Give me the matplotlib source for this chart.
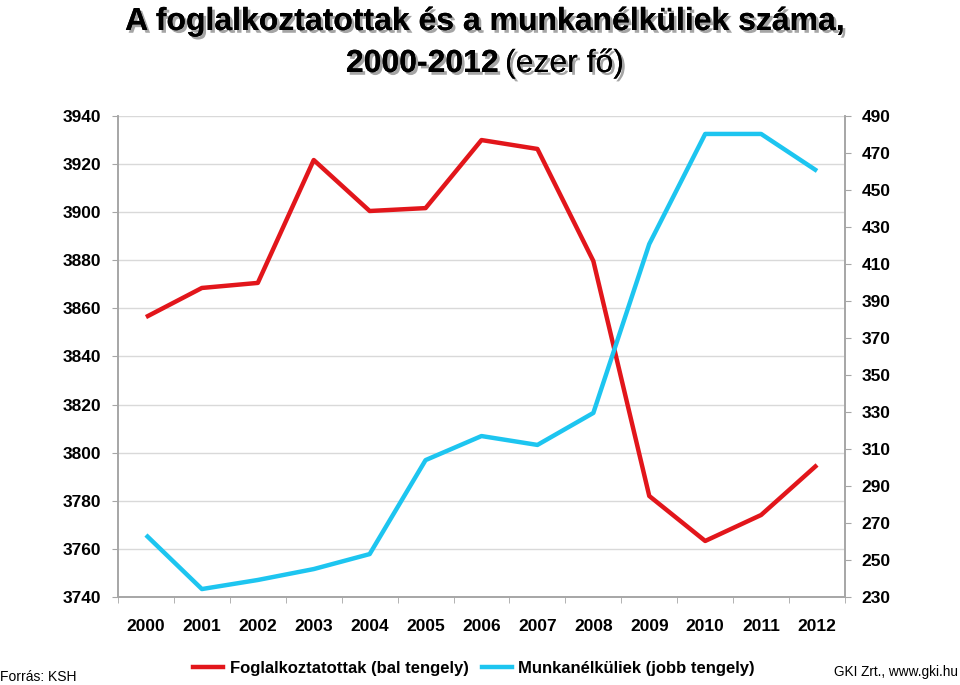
import matplotlib.pyplot as plt
import matplotlib.patheffects as pe
from matplotlib.ticker import FixedLocator, NullFormatter

# ─── DATA ──────────────────────────────────────────────────────────────────
YEARS = ["2000", "2001", "2002", "2003", "2004", "2005", "2006",
         "2007", "2008", "2009", "2010", "2011", "2012"]
EMPLOYED = [3856.4, 3868.5, 3870.6, 3921.7, 3900.5, 3901.7, 3930.0,
            3926.3, 3879.7, 3782.0, 3763.3, 3774.1, 3794.9]
UNEMPLOYED = [263.5, 234.3, 239.2, 245.1, 253.2, 304.0, 317.0,
              312.2, 329.5, 420.8, 480.3, 480.3, 460.3]
LEFT_TICKS = list(range(3740, 3941, 20))
RIGHT_TICKS = list(range(230, 491, 20))

RED = "#E2161B"
CYAN = "#1DC5F0"
GRID = "#D9D9D9"
AXIS = "#A6A6A6"

plt.rcParams["font.family"] = ["Liberation Sans Narrow", "Liberation Sans", "DejaVu Sans"]

fig = plt.figure(figsize=(9.6, 6.85), dpi=100)
ax = fig.add_axes([118/960, 1-597/685, (845-118)/960, (597-116)/685])
ax2 = ax.twinx()

x = list(range(len(YEARS)))
ax.plot(x, EMPLOYED, color=RED, lw=3.2, solid_capstyle="butt", zorder=3)
ax2.plot(x, UNEMPLOYED, color=CYAN, lw=3.2, solid_capstyle="butt", zorder=3)

ax.set_xlim(-0.5, len(YEARS) - 0.5)
ax.set_ylim(3740, 3940)
ax2.set_ylim(230, 490)

ax.set_yticks(LEFT_TICKS)
ax.set_yticklabels([str(v) for v in LEFT_TICKS], fontsize=12.5, fontweight="bold")
ax2.set_yticks(RIGHT_TICKS)
ax2.set_yticklabels([str(v) for v in RIGHT_TICKS], fontsize=12.5, fontweight="bold")

# category labels in the middle, ticks on the boundaries (Excel style)
ax.set_xticks(x)
ax.set_xticklabels(YEARS, fontsize=12.5, fontweight="bold")
ax.tick_params(axis="x", length=0, pad=16)
ax.xaxis.set_minor_locator(FixedLocator([i - 0.5 for i in range(len(YEARS) + 1)]))
ax.xaxis.set_minor_formatter(NullFormatter())
ax.tick_params(axis="x", which="minor", length=4, color=AXIS, direction="out")

ax.tick_params(axis="y", length=4, color=AXIS, pad=8)
ax2.tick_params(axis="y", length=4, color=AXIS, pad=8)

ax.grid(axis="y", color=GRID, lw=1)
ax.set_axisbelow(True)
for a in (ax, ax2):
    a.spines["top"].set_visible(False)
    for s in ("left", "right", "bottom"):
        a.spines[s].set_color(AXIS)
        a.spines[s].set_linewidth(1.2)

# ─── TITLE ─────────────────────────────────────────────────────────────────
shadow = [pe.withSimplePatchShadow(offset=(2, -2), shadow_rgbFace="#7F7F7F", alpha=0.7),
          pe.Normal()]
fig.text(485/960, 1-22/685, "A foglalkoztatottak és a munkanélküliek száma,",
         ha="center", va="center", fontsize=23, fontweight="bold",
         path_effects=shadow)
fig.text(499/960, 1-64/685, "2000-2012", ha="right", va="center",
         fontsize=23, fontweight="bold", path_effects=shadow)
fig.text(505/960, 1-64/685, "(ezer fő)", ha="left", va="center",
         fontsize=23, path_effects=shadow)

# ─── LEGEND & NOTES ────────────────────────────────────────────────────────
handles = [plt.Line2D([0], [0], color=RED, lw=3.2,
                      label="Foglalkoztatottak (bal tengely)"),
           plt.Line2D([0], [0], color=CYAN, lw=3.2,
                      label="Munkanélküliek (jobb tengely)")]
fig.legend(handles=handles, loc="center", bbox_to_anchor=(474/960, 1-668/685),
           ncol=2, frameon=False, handlelength=1.8, handletextpad=0.4,
           columnspacing=0.8, prop={"size": 12, "weight": "bold"})

fig.text(0/960, 1-677/685, "Forrás: KSH", ha="left", va="center", fontsize=10)
fig.text(958/960, 1-672/685, "GKI Zrt., www.gki.hu", ha="right", va="center",
         fontsize=9.8)

fig.savefig("out.png", dpi=100)
